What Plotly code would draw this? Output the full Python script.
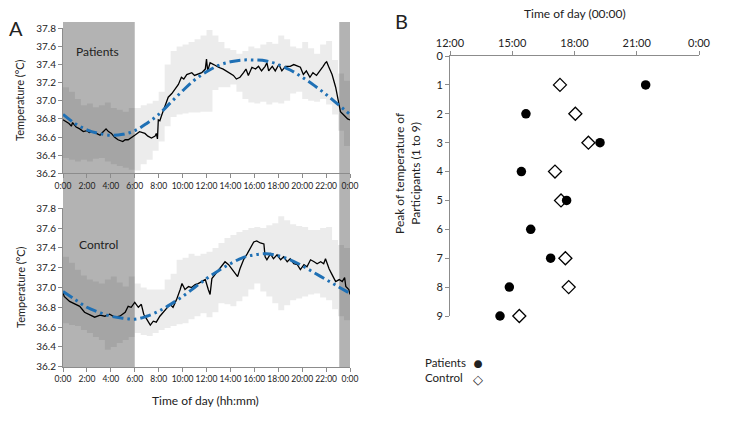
import plotly.graph_objects as go

# ---------------- Panel A data (hours of day, temperature °C) ----------------
band_t = [0, 0.5, 1, 1.5, 2, 2.5, 3, 3.5, 4, 4.5, 5, 5.5, 6, 6.5, 7, 7.5, 8, 8.5, 9, 9.5,
          10, 10.5, 11, 11.5, 12, 12.5, 13, 13.5, 14, 14.5, 15, 15.5, 16, 16.5, 17, 17.5,
          18, 18.5, 19, 19.5, 20, 20.5, 21, 21.5, 22, 22.5, 23, 23.5, 24]

pat_upper = [37.15, 37.10, 37.02, 36.95, 36.97, 36.93, 36.95, 36.98, 36.92, 36.90, 36.88, 36.92,
             36.92, 36.95, 36.97, 37.00, 37.10, 37.40, 37.55, 37.60, 37.62, 37.65, 37.68, 37.72,
             37.78, 37.72, 37.65, 37.58, 37.56, 37.52, 37.55, 37.60, 37.58, 37.62, 37.65, 37.63,
             37.72, 37.68, 37.60, 37.58, 37.65, 37.58, 37.52, 37.62, 37.66, 37.45, 37.30, 37.22, 37.20]
pat_lower = [36.37, 36.35, 36.33, 36.35, 36.33, 36.36, 36.37, 36.33, 36.30, 36.28, 36.26, 36.24,
             36.23, 36.30, 36.35, 36.45, 36.55, 36.72, 36.82, 36.85, 36.86, 36.87, 36.87, 36.88,
             36.88, 37.12, 37.15, 37.15, 37.18, 37.10, 37.02, 36.98, 36.97, 36.99, 36.96, 36.98,
             36.97, 37.00, 37.08, 37.10, 37.02, 37.00, 36.99, 37.02, 36.96, 36.85, 36.67, 36.50, 36.40]

ctl_upper = [37.31, 37.25, 37.18, 37.12, 37.08, 37.06, 37.04, 37.08, 37.11, 37.05, 37.01, 37.11,
             37.04, 37.00, 36.98, 36.98, 36.98, 37.08, 37.14, 37.28, 37.30, 37.34, 37.32, 37.34,
             37.36, 37.40, 37.45, 37.50, 37.53, 37.56, 37.58, 37.60, 37.61, 37.60, 37.63, 37.65,
             37.72, 37.68, 37.64, 37.62, 37.61, 37.58, 37.58, 37.60, 37.61, 37.48, 37.43, 37.40, 37.38]
ctl_lower = [36.64, 36.62, 36.61, 36.57, 36.54, 36.50, 36.47, 36.37, 36.40, 36.44, 36.47, 36.50,
             36.54, 36.52, 36.51, 36.54, 36.57, 36.59, 36.61, 36.63, 36.64, 36.68, 36.71, 36.74,
             36.70, 36.75, 36.84, 36.83, 36.81, 36.86, 36.91, 36.98, 37.04, 36.96, 36.91, 36.84,
             36.77, 36.82, 36.87, 36.89, 36.91, 36.93, 36.94, 36.90, 36.87, 36.78, 36.71, 36.67, 36.64]

pat_t = [0, 0.28, 0.5, 0.7, 0.8, 1.1, 1.4, 1.7, 2.0, 2.2, 2.5, 2.8, 3.1, 3.3, 3.5, 3.6, 3.8, 4.05,
         4.3, 4.6, 5.0, 5.2, 5.45, 5.7, 6.0, 6.2, 6.4, 6.85, 7.1, 7.4, 7.7, 7.8, 7.9, 7.97, 8.1, 8.25,
         8.5, 8.8, 9.1, 9.4, 9.65, 9.9, 10.1, 10.35, 10.77, 11.0, 11.2, 11.6, 11.9, 12.0, 12.1, 12.3,
         12.6, 13.0, 13.4, 13.85, 14.25, 14.5, 14.8, 15.1, 15.3, 15.5, 15.8, 16.1, 16.35, 16.6,
         16.9, 17.05, 17.2, 17.5, 17.75, 18.05, 18.3, 18.6, 19.0, 19.3, 19.6, 19.85, 20.1, 20.35,
         20.65, 20.9, 21.2, 21.5, 21.75, 21.95, 22.05, 22.2, 22.5, 22.8, 23.0, 23.2, 23.5, 23.8, 24]
pat_mean = [36.79, 36.77, 36.75, 36.72, 36.76, 36.71, 36.69, 36.66, 36.67, 36.65, 36.66, 36.64,
            36.62, 36.65, 36.67, 36.69, 36.66, 36.64, 36.60, 36.57, 36.55, 36.57, 36.57, 36.59,
            36.62, 36.64, 36.66, 36.64, 36.61, 36.59, 36.61, 36.64, 36.58, 36.79, 36.78, 36.84,
            36.93, 37.04, 37.08, 37.13, 37.18, 37.26, 37.24, 37.29, 37.31, 37.28, 37.29, 37.31,
            37.35, 37.46, 37.33, 37.42, 37.40, 37.37, 37.35, 37.31, 37.28, 37.24, 37.26, 37.31,
            37.35, 37.28, 37.37, 37.35, 37.38, 37.33, 37.38, 37.42, 37.33, 37.38, 37.33, 37.40,
            37.33, 37.38, 37.38, 37.40, 37.38, 37.37, 37.29, 37.33, 37.26, 37.31, 37.28, 37.33,
            37.38, 37.42, 37.43, 37.38, 37.29, 37.15, 37.00, 36.88, 36.84, 36.80, 36.79]

ctl_t = [0, 0.1, 0.55, 1.0, 1.4, 1.8, 2.2, 2.65, 3.1, 3.5, 3.9, 4.35, 4.75, 5.2, 5.45, 5.7, 6.0,
         6.3, 6.55, 6.75, 7.0, 7.3, 7.55, 7.8, 8.1, 8.4, 8.7, 8.95, 9.2, 9.5, 9.8, 9.95, 10.2, 10.5,
         10.75, 11.05, 11.3, 11.6, 11.9, 12.15, 12.3, 12.45, 12.7, 13.0, 13.3, 13.55, 13.85, 14.1,
         14.4, 14.6, 14.8, 15.1, 15.4, 15.65, 15.95, 16.2, 16.5, 16.8, 16.9, 17.05, 17.35, 17.6,
         17.9, 18.2, 18.45, 18.75, 19.0, 19.3, 19.6, 19.85, 20.15, 20.4, 20.7, 21.0, 21.25, 21.55,
         21.8, 21.95, 22.25, 22.5, 22.8, 23.1, 23.35, 23.55, 23.65, 23.9, 24]
ctl_mean = [36.95, 36.91, 36.86, 36.83, 36.81, 36.75, 36.73, 36.70, 36.72, 36.71, 36.73, 36.70,
            36.71, 36.75, 36.81, 36.80, 36.85, 36.80, 36.83, 36.73, 36.68, 36.62, 36.66, 36.65,
            36.71, 36.75, 36.80, 36.83, 36.80, 36.88, 36.98, 37.04, 36.98, 37.01, 37.00, 37.03,
            37.04, 37.06, 37.08, 36.98, 36.93, 37.09, 37.13, 37.18, 37.23, 37.26, 37.23, 37.19,
            37.14, 37.11, 37.19, 37.28, 37.34, 37.39, 37.46, 37.47, 37.45, 37.44, 37.31, 37.28,
            37.34, 37.29, 37.33, 37.28, 37.31, 37.26, 37.29, 37.24, 37.23, 37.18, 37.23, 37.21,
            37.28, 37.26, 37.24, 37.26, 37.24, 37.29, 37.19, 37.13, 37.06, 37.08, 37.06, 37.10,
            37.01, 36.98, 36.93]

fit_t = list(range(0, 25))
pat_fit = [36.85, 36.75, 36.68, 36.64, 36.62, 36.63, 36.67, 36.75, 36.85, 36.98, 37.11, 37.23,
           37.32, 37.39, 37.43, 37.45, 37.45, 37.44, 37.40, 37.34, 37.26, 37.17, 37.07, 36.96, 36.85]
ctl_fit = [36.96, 36.88, 36.80, 36.75, 36.71, 36.69, 36.68, 36.71, 36.76, 36.83, 36.91, 37.00,
           37.09, 37.17, 37.24, 37.30, 37.33, 37.34, 37.32, 37.28, 37.22, 37.15, 37.08, 37.01, 36.94]

hour_ticks = list(range(0, 25, 2))
hour_labels = ["0:00", "2:00", "4:00", "6:00", "8:00", "10:00", "12:00", "14:00", "16:00",
               "18:00", "20:00", "22:00", "0:00"]
temp_ticks = [36.2, 36.4, 36.6, 36.8, 37.0, 37.2, 37.4, 37.6, 37.8]

# ---------------- Panel B data ----------------
participants = [1, 2, 3, 4, 5, 6, 7, 8, 9]
patients_peak = [21.43, 15.66, 19.23, 15.44, 17.62, 15.89, 16.85, 14.86, 14.41]
control_peak = [17.30, 18.04, 18.67, 17.06, 17.35, None, 17.56, 17.72, 15.34]
peak_ticks = [12, 15, 18, 21, 24]
peak_labels = ["12:00", "15:00", "18:00", "21:00", "0:00"]

W, H = 740, 433
def px(x):
    return x / W
def py(y):
    return 1 - y / H

BAND = "rgba(0,0,0,0.075)"
BLUE = "#1f70b5"
DASH = "11px,4px,2.5px,4px,2.5px,4px"

fig = go.Figure()

for (t, lo, up, mt, mv, fv, xa, ya) in [
        (band_t, pat_lower, pat_upper, pat_t, pat_mean, pat_fit, "x", "y"),
        (band_t, ctl_lower, ctl_upper, ctl_t, ctl_mean, ctl_fit, "x2", "y2")]:
    fig.add_trace(go.Scatter(x=t, y=lo, mode="lines", line=dict(width=0, shape="hv"),
                             xaxis=xa, yaxis=ya, showlegend=False, hoverinfo="skip"))
    fig.add_trace(go.Scatter(x=t, y=up, mode="lines", line=dict(width=0, shape="hv"),
                             fill="tonexty", fillcolor=BAND,
                             xaxis=xa, yaxis=ya, showlegend=False, hoverinfo="skip"))
    fig.add_trace(go.Scatter(x=mt, y=mv, mode="lines", line=dict(color="black", width=1.3),
                             xaxis=xa, yaxis=ya, showlegend=False))
    fig.add_trace(go.Scatter(x=fit_t, y=fv, mode="lines",
                             line=dict(color=BLUE, width=3, dash=DASH, shape="spline"),
                             xaxis=xa, yaxis=ya, showlegend=False))

fig.add_trace(go.Scatter(x=patients_peak, y=participants, mode="markers",
                         marker=dict(symbol="circle", size=9.5, color="black"),
                         xaxis="x3", yaxis="y3", showlegend=False, cliponaxis=False))
fig.add_trace(go.Scatter(x=control_peak, y=participants, mode="markers",
                         marker=dict(symbol="diamond-open", size=10, color="black",
                                     line=dict(width=1.3, color="#222")),
                         xaxis="x3", yaxis="y3", showlegend=False, cliponaxis=False))

axis_common = dict(showline=True, linecolor="#8c8c8c", linewidth=1, ticks="outside",
                   ticklen=4, tickcolor="#8c8c8c", showgrid=False, zeroline=False,
                   automargin=False, tickangle=0)

xa_dom = [px(63), px(350)]
fig.update_layout(
    width=W, height=H,
    margin=dict(l=0, r=0, t=0, b=0, autoexpand=False),
    paper_bgcolor="white",
    plot_bgcolor="rgba(0,0,0,0)",
    font=dict(family="Lato, 'Open Sans', sans-serif", color="#222"),
    xaxis=dict(domain=xa_dom, range=[0, 24], anchor="y", tickvals=hour_ticks,
               ticktext=hour_labels, tickfont=dict(size=8.5), **axis_common),
    yaxis=dict(domain=[py(173.3), py(28.3)], range=[36.2, 37.8], anchor="x",
               tickvals=temp_ticks, tickformat=".1f", tickfont=dict(size=10), **axis_common),
    xaxis2=dict(domain=xa_dom, range=[0, 24], anchor="y2", tickvals=hour_ticks,
                ticktext=hour_labels, tickfont=dict(size=8.5), **axis_common),
    yaxis2=dict(domain=[py(366.7), py(208.3)], range=[36.2, 37.8], anchor="x2",
                tickvals=temp_ticks, tickformat=".1f", tickfont=dict(size=10), **axis_common),
    xaxis3=dict(domain=[px(450), px(699)], range=[12, 24], anchor="y3", side="top",
                tickvals=peak_ticks, ticktext=peak_labels, tickfont=dict(size=11), **axis_common),
    yaxis3=dict(domain=[py(316), py(56)], range=[9, 0], anchor="x3",
                tickvals=list(range(0, 10)), tickfont=dict(size=11), **axis_common),
)

for x0, x1 in [(0, 6), (23.1, 24)]:
    fig.add_shape(type="rect", xref="x", yref="paper", x0=x0, x1=x1,
                  y0=py(368), y1=py(22), fillcolor="#b3b3b3", line=dict(width=0), layer="below")

def ann(text, x, y, size, angle=0, xanchor="center", align="center", color="#222"):
    fig.add_annotation(text=text, x=px(x), y=py(y), xref="paper", yref="paper",
                       showarrow=False, font=dict(size=size, color=color), textangle=angle,
                       xanchor=xanchor, yanchor="middle", align=align)

ann("A", 16, 28, 20)
ann("B", 401, 21, 20)
ann("Patients", 97, 52, 12)
ann("Control", 98, 244, 12)
ann("Temperature (°C)", 20, 100, 11, angle=-90)
ann("Temperature (°C)", 20, 287, 11, angle=-90)
ann("Time of day (hh:mm)", 205, 400, 12)
ann("Time of day (00:00)", 575, 14, 12)
ann("Peak of temperature of<br>Participants (1 to 9)", 407, 173, 12, angle=-90)
ann("Patients<br>Control", 423, 369.5, 11.5, xanchor="left", align="left")
ann("<span style='font-size:16px'>●</span><br><span style='font-size:13px'>◇</span>",
    477.5, 369.5, 11.5)

fig.write_html("out.html", config={"displayModeBar": False},
               post_script="document.body.style.margin='0';")
